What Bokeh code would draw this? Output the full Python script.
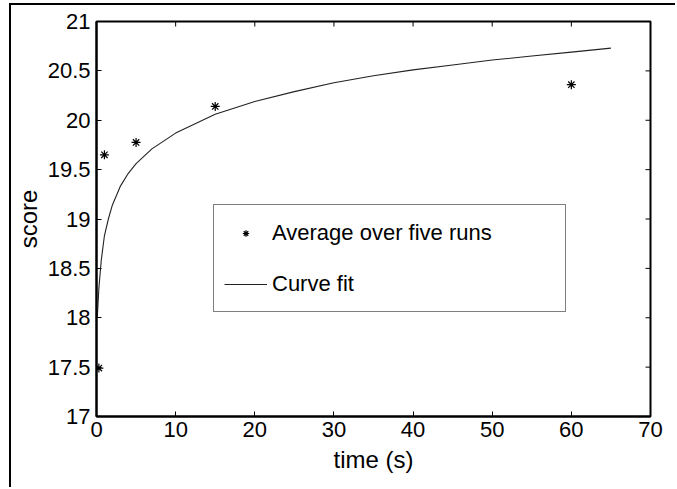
import math
from bokeh.plotting import figure
from bokeh.models import LinearAxis, Legend, LegendItem, FixedTicker, Range1d
from bokeh.embed import file_html
from bokeh.resources import INLINE

# ---- data ----
time_s = [0.3, 1, 5, 15, 60]
avg_score = [17.49, 19.65, 19.775, 20.14, 20.36]

fit_time = [0.1, 0.3, 0.6, 1, 1.5, 2, 3, 4, 5, 7, 10, 15, 20, 25, 30, 35, 40, 45, 50, 55, 60, 65]
fit_score = [18.0, 18.3, 18.58, 18.83, 19.0, 19.14, 19.33, 19.46, 19.56, 19.71, 19.87,
             20.06, 20.19, 20.29, 20.38, 20.45, 20.51, 20.56, 20.61, 20.65, 20.69, 20.73]

x_ticks = [0, 10, 20, 30, 40, 50, 60, 70]
y_ticks = [17, 17.5, 18, 18.5, 19, 19.5, 20, 20.5, 21]
y_tick_labels = ["17", "17.5", "18", "18.5", "19", "19.5", "20", "20.5", "21"]

series_labels = ["Average over five runs", "Curve fit"]
x_label = "time (s)"
y_label = "score"

FONT = "Liberation Sans"
X_MIN, X_MAX = 0, 70
Y_MIN, Y_MAX = 17, 21

p = figure(width=666, height=484, output_backend="svg", toolbar_location=None,
           x_range=Range1d(X_MIN, X_MAX), y_range=Range1d(Y_MIN, Y_MAX),
           min_border_left=85, min_border_right=27, min_border_top=16, min_border_bottom=73,
           x_axis_location=None, y_axis_location=None)
p.styles = {"border-left": "2px solid black", "border-top": "2px solid black",
            "margin-left": "9px", "margin-top": "3px"}
p.xgrid.visible = False
p.ygrid.visible = False
p.outline_line_color = "black"
p.outline_line_width = 2
p.background_fill_color = "white"
p.border_fill_color = "white"

ylabels = {}
for v, s in zip(y_ticks, y_tick_labels):
    ylabels[int(v) if float(v).is_integer() else v] = s


def style_axis(ax):
    ax.axis_line_color = "black"
    ax.axis_line_width = 2
    ax.major_tick_in = 5
    ax.major_tick_out = 0
    ax.major_tick_line_color = "black"
    ax.major_tick_line_width = 1
    ax.minor_tick_line_color = None
    ax.major_label_text_font = FONT
    ax.major_label_text_color = "black"
    ax.major_label_text_font_size = "22px"
    ax.axis_label_text_font = FONT
    ax.axis_label_text_font_style = "normal"
    ax.axis_label_text_color = "black"
    ax.axis_label_text_font_size = "24px"


xb = LinearAxis(ticker=FixedTicker(ticks=x_ticks), axis_label=x_label)
style_axis(xb)
xb.major_label_standoff = 5
xb.axis_label_standoff = 6
p.add_layout(xb, "below")

yl = LinearAxis(ticker=FixedTicker(ticks=y_ticks), axis_label=y_label,
                major_label_overrides=ylabels)
style_axis(yl)
yl.major_label_standoff = 6
yl.axis_label_standoff = 3
p.add_layout(yl, "left")

# inward ticks on the top and right edges of the box (MATLAB style)
p.ray(x=x_ticks, y=[Y_MAX] * len(x_ticks), length=5, length_units="screen",
      angle=-math.pi / 2, line_color="black", line_width=1)
p.ray(x=[X_MAX] * len(y_ticks), y=y_ticks, length=5, length_units="screen",
      angle=math.pi, line_color="black", line_width=1)

curve = p.line(fit_time, fit_score, line_color="#222222", line_width=1.1)
pts = p.scatter(time_s, avg_score, marker="asterisk", size=9, line_color="black", line_width=1.2)

legend = Legend(items=[LegendItem(label=series_labels[0], renderers=[pts]),
                       LegendItem(label=series_labels[1], renderers=[curve])],
                location=(117, 104), orientation="vertical",
                padding=10, spacing=16, margin=0,
                glyph_width=43, glyph_height=16,
                label_standoff=5, label_width=283, label_height=35,
                label_text_font=FONT, label_text_font_size="22px", label_text_color="black",
                border_line_color="black", border_line_width=1.5,
                background_fill_color="white", background_fill_alpha=1.0)
p.add_layout(legend)

open("out.html", "w").write(file_html(p, INLINE))
